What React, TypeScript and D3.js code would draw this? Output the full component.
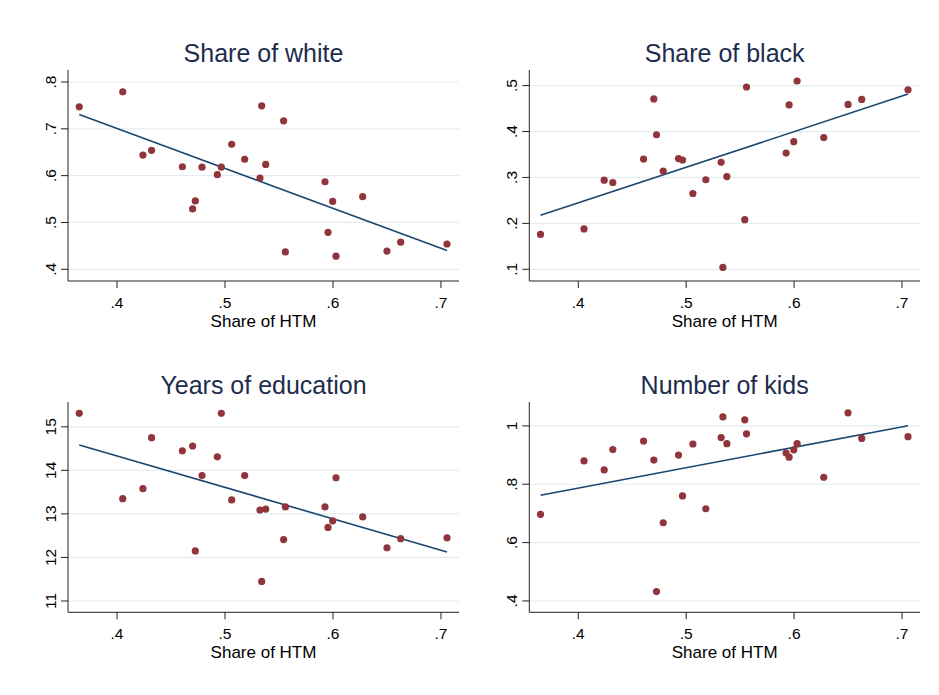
import React from "react";
import * as d3 from "d3";

const htm = [0.365, 0.4053, 0.424, 0.432, 0.4605, 0.4725, 0.47, 0.4787, 0.4929, 0.4966, 0.5062, 0.5182, 0.534, 0.5377, 0.5324, 0.5543, 0.5559, 0.5926, 0.5997, 0.5954, 0.6028, 0.6275, 0.65, 0.6627, 0.7056];
const shareWhite = [0.747, 0.779, 0.644, 0.654, 0.619, 0.546, 0.529, 0.618, 0.602, 0.618, 0.667, 0.635, 0.749, 0.624, 0.595, 0.717, 0.437, 0.587, 0.545, 0.479, 0.428, 0.555, 0.439, 0.458, 0.454];
const shareBlack = [0.176, 0.188, 0.294, 0.289, 0.34, 0.393, 0.471, 0.314, 0.341, 0.338, 0.265, 0.295, 0.104, 0.302, 0.333, 0.208, 0.497, 0.353, 0.378, 0.458, 0.51, 0.387, 0.459, 0.47, 0.491];
const yearsEduc = [15.31, 13.35, 13.58, 14.75, 14.45, 12.15, 14.56, 13.88, 14.31, 15.31, 13.32, 13.88, 11.45, 13.11, 13.09, 12.41, 13.16, 13.16, 12.84, 12.69, 13.83, 12.93, 12.22, 12.43, 12.45];
const numKids = [0.697, 0.88, 0.849, 0.919, 0.948, 0.432, 0.883, 0.668, 0.9, 0.76, 0.938, 0.716, 1.031, 0.939, 0.96, 1.021, 0.973, 0.907, 0.918, 0.893, 0.939, 0.824, 1.045, 0.957, 0.963];

const xTicks = [0.4, 0.5, 0.6, 0.7];
const xTickLabels = [".4", ".5", ".6", ".7"];
const whiteTicks = [0.4, 0.5, 0.6, 0.7, 0.8];
const whiteTickLabels = [".4", ".5", ".6", ".7", ".8"];
const blackTicks = [0.1, 0.2, 0.3, 0.4, 0.5];
const blackTickLabels = [".1", ".2", ".3", ".4", ".5"];
const educTicks = [11, 12, 13, 14, 15];
const educTickLabels = ["11", "12", "13", "14", "15"];
const kidsTicks = [0.4, 0.6, 0.8, 1];
const kidsTickLabels = [".4", ".6", ".8", "1"];

const titles = ["Share of white", "Share of black", "Years of education", "Number of kids"];
const xTitle = "Share of HTM";

const FONT = "'Liberation Sans', Arial, Helvetica, sans-serif";

type PanelProps = {
  left: number; right: number; top: number; bottom: number;
  xDomain: [number, number]; yDomain: [number, number];
  ys: number[]; yTicks: number[]; yLabels: string[]; title: string;
};

function Panel(p: PanelProps) {
  const x = d3.scaleLinear().domain(p.xDomain).range([p.left, p.right]);
  const y = d3.scaleLinear().domain(p.yDomain).range([p.bottom, p.top]);
  const mx = d3.mean(htm)!;
  const my = d3.mean(p.ys)!;
  let sxy = 0, sxx = 0;
  htm.forEach((v, i) => { sxy += (v - mx) * (p.ys[i] - my); sxx += (v - mx) * (v - mx); });
  const b = sxy / sxx;
  const a = my - b * mx;
  const x0 = d3.min(htm)!, x1 = d3.max(htm)!;
  const line = d3.line<number>().x(d => x(d)).y(d => y(a + b * d));
  const cx = (p.left + p.right) / 2;
  return (
    <g>
      {p.yTicks.map((t, i) => (
        <line key={"g" + i} x1={p.left} x2={p.right} y1={y(t)} y2={y(t)} stroke="#e3edf0" strokeWidth={1.2} />
      ))}
      <path d={line([x0, x1]) || ""} fill="none" stroke="#1a476f" strokeWidth={1.6} />
      {htm.map((v, i) => (
        <circle key={"c" + i} cx={x(v)} cy={y(p.ys[i])} r={3.6} fill="#90353b" />
      ))}
      <line x1={p.left} x2={p.left} y1={p.top} y2={p.bottom} stroke="#222" strokeWidth={1} />
      <line x1={p.left} x2={p.right} y1={p.bottom} y2={p.bottom} stroke="#222" strokeWidth={1} />
      {p.yTicks.map((t, i) => (
        <g key={"yt" + i}>
          <line x1={p.left - 7} x2={p.left} y1={y(t)} y2={y(t)} stroke="#222" strokeWidth={1} />
          <text transform={`translate(${p.left - 12},${y(t)}) rotate(-90)`} textAnchor="middle" fontSize={15.5} fontFamily={FONT} fill="#000">{p.yLabels[i]}</text>
        </g>
      ))}
      {xTicks.map((t, i) => (
        <g key={"xt" + i}>
          <line x1={x(t)} x2={x(t)} y1={p.bottom} y2={p.bottom + 7} stroke="#222" strokeWidth={1} />
          <text x={x(t)} y={p.bottom + 27} textAnchor="middle" fontSize={15.5} fontFamily={FONT} fill="#000">{xTickLabels[i]}</text>
        </g>
      ))}
      <text x={cx} y={p.bottom + 46} textAnchor="middle" fontSize={17} fontFamily={FONT} fill="#000">{xTitle}</text>
      <text x={cx} y={p.top - 8} textAnchor="middle" fontSize={25} fontFamily={FONT} fill="#1e2d4d">{p.title}</text>
    </g>
  );
}

export default function App() {
  const xd: [number, number] = [0.3546, 0.7167];
  return (
    <svg width={939} height={695} style={{ position: "absolute", left: 0, top: 0, background: "#fff" }}>
      <rect x={0} y={0} width={939} height={695} fill="#fff" />
      <Panel left={68} right={459} top={70} bottom={281} xDomain={xd} yDomain={[0.375, 0.8256]} ys={shareWhite} yTicks={whiteTicks} yLabels={whiteTickLabels} title={titles[0]} />
      <Panel left={529.3} right={920} top={70} bottom={281} xDomain={xd} yDomain={[0.0745, 0.534]} ys={shareBlack} yTicks={blackTicks} yLabels={blackTickLabels} title={titles[1]} />
      <Panel left={68} right={459} top={402} bottom={612.3} xDomain={xd} yDomain={[10.74, 15.57]} ys={yearsEduc} yTicks={educTicks} yLabels={educTickLabels} title={titles[2]} />
      <Panel left={529.3} right={920} top={402} bottom={612.3} xDomain={xd} yDomain={[0.361, 1.082]} ys={numKids} yTicks={kidsTicks} yLabels={kidsTickLabels} title={titles[3]} />
    </svg>
  );
}
